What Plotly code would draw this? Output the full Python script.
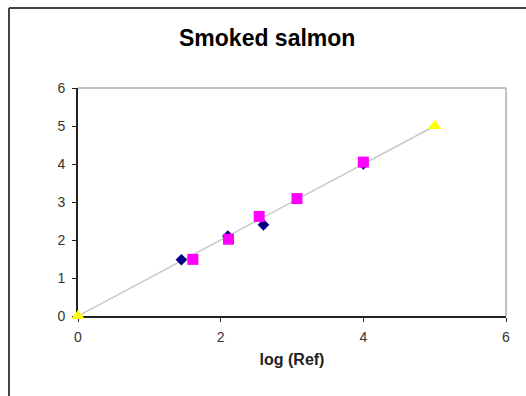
import plotly.graph_objects as go

# Data
blue_x = [1.45, 2.1, 2.6, 4.0]
blue_y = [1.48, 2.1, 2.4, 4.0]
pink_x = [1.61, 2.11, 2.54, 3.07, 4.0]
pink_y = [1.49, 2.02, 2.62, 3.09, 4.05]
yellow_x = [0, 5]
yellow_y = [0, 5]
line_x = [0, 5]
line_y = [0, 5]
ticks = [0, 2, 4, 6]
yticks = [0, 1, 2, 3, 4, 5, 6]

W, H = 526, 396
L, R, T, B = 78, 506, 88, 316

def px(p):
    return (p - L) / (R - L)

def py(p):
    return (B - p) / (B - T)

fig = go.Figure()
fig.add_trace(go.Scatter(x=line_x, y=line_y, mode="lines",
                         line=dict(color="#c8c8c8", width=1.5), showlegend=False))
fig.add_trace(go.Scatter(x=blue_x, y=blue_y, mode="markers",
                         marker=dict(symbol="diamond", color="#000080", size=9),
                         showlegend=False, cliponaxis=False))
fig.add_trace(go.Scatter(x=pink_x, y=pink_y, mode="markers",
                         marker=dict(symbol="square", color="#ff00ff", size=11),
                         showlegend=False, cliponaxis=False))
fig.add_trace(go.Scatter(x=yellow_x, y=yellow_y, mode="markers",
                         marker=dict(symbol="triangle-up", color="#ffff00", size=12),
                         showlegend=False, cliponaxis=False))

FAM = "Liberation Sans, Arial, sans-serif"
font = dict(family=FAM, size=14, color="#333333")

fig.update_layout(
    width=W, height=H,
    margin=dict(l=L, r=W - R, t=T, b=H - B),
    paper_bgcolor="white", plot_bgcolor="white",
    font=font,
    xaxis=dict(range=[0, 6], tickvals=ticks, showgrid=False, zeroline=False,
               showline=True, linecolor="#222222", linewidth=2, layer="below traces",
               ticks="outside", ticklen=4, tickcolor="#222222", tickwidth=1,
               ticklabelstandoff=3,
               title=dict(text="<b>log (Ref)</b>", font=dict(family=FAM, size=16, color="#222222"), standoff=10),
               tickfont=font),
    yaxis=dict(range=[0, 6], tickvals=yticks, showgrid=False, zeroline=False,
               showline=True, linecolor="#222222", linewidth=2, layer="below traces",
               ticks="outside", ticklen=4, tickcolor="#222222", tickwidth=1,
               ticklabelstandoff=4,
               tickfont=font),
    shapes=[
        # plot area border (gray top/right)
        dict(type="line", xref="paper", yref="paper", x0=0, x1=1, y0=1, y1=1,
             line=dict(color="#c0c0c0", width=2), layer="below"),
        dict(type="line", xref="paper", yref="paper", x0=1, x1=1, y0=0, y1=1,
             line=dict(color="#c0c0c0", width=2), layer="below"),
        # chart frame (top and left)
        dict(type="line", xref="paper", yref="paper", x0=px(9), x1=px(W + 5), y0=py(8), y1=py(8),
             line=dict(color="#444444", width=2)),
        dict(type="line", xref="paper", yref="paper", x0=px(9), x1=px(9), y0=py(8), y1=py(H + 5),
             line=dict(color="#444444", width=2)),
    ],
    annotations=[
        dict(text="<b>Smoked salmon</b>", xref="paper", yref="paper",
             x=px(267), y=py(38), xanchor="center", yanchor="middle",
             showarrow=False, font=dict(family=FAM, size=23, color="#000000")),
    ],
)

fig.write_html("out.html")
